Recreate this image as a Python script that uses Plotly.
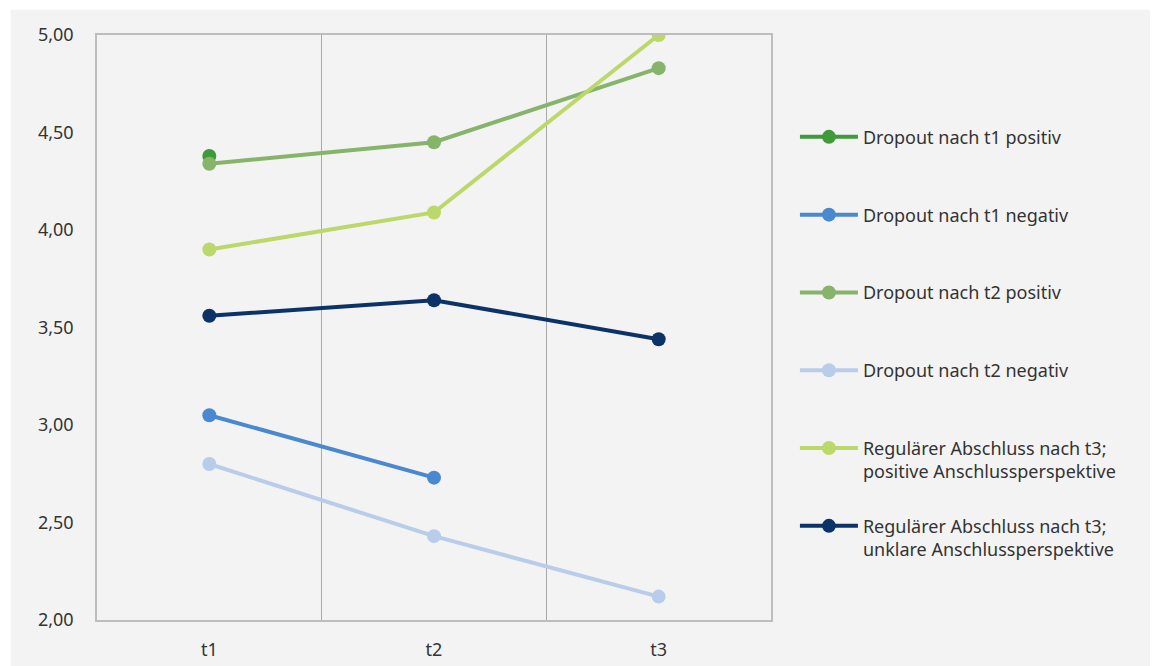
import plotly.graph_objects as go

categories = ["t1", "t2", "t3"]

series_names = [
    "Dropout nach t1 positiv",
    "Dropout nach t1 negativ",
    "Dropout nach t2 positiv",
    "Dropout nach t2 negativ",
    "Regulärer Abschluss nach t3;<br>positive Anschlussperspektive",
    "Regulärer Abschluss nach t3;<br>unklare Anschlussperspektive",
]

dropout_t1_pos = [4.38, None, None]
dropout_t1_neg = [3.05, 2.73, None]
dropout_t2_pos = [4.34, 4.45, 4.83]
dropout_t2_neg = [2.80, 2.43, 2.12]
regular_pos = [3.90, 4.09, 5.00]
regular_unklar = [3.56, 3.64, 3.44]

series_values = [dropout_t1_pos, dropout_t1_neg, dropout_t2_pos,
                 dropout_t2_neg, regular_pos, regular_unklar]
colors = ["#3f9a3a", "#4a89cf", "#86b46b", "#b9cdeb", "#bdd86a", "#0b3367"]

y_ticks = [2.0, 2.5, 3.0, 3.5, 4.0, 4.5, 5.0]

FONT = "Noto Sans"
FS = 18

fig = go.Figure()
for i, (name, vals, col) in enumerate(zip(series_names, series_values, colors)):
    label = name if "<br>" in name else name + "<br> "
    fig.add_trace(go.Scatter(
        x=categories, y=vals, name=label, mode="lines+markers",
        line=dict(color=col, width=4),
        marker=dict(color=col, size=14),
        legendgroup=f"g{i}",
        connectgaps=False,
    ))

fig.update_layout(
    width=1158, height=666,
    margin=dict(l=89, r=395, t=27, b=54),
    paper_bgcolor="white",
    plot_bgcolor="#f3f3f3",
    separators=",.",
    font=dict(family=FONT, size=FS, color="#333333"),
    showlegend=True,
    legend=dict(
        x=1.0355, y=0.857, xanchor="left", yanchor="top",
        traceorder="grouped", tracegroupgap=28, valign="top",
        bgcolor="rgba(0,0,0,0)",
        font=dict(family=FONT, size=FS, color="#333333"),
        itemwidth=58,
    ),
    shapes=[dict(
        type="rect", xref="paper", yref="paper", layer="below",
        x0=-0.128, x1=1.6, y0=-0.12, y1=1.043,
        fillcolor="#f3f3f3", line=dict(width=0),
    )],
)

fig.update_xaxes(
    type="category", categoryorder="array", categoryarray=categories,
    tickson="boundaries", showgrid=True, gridcolor="#a9a9a9", gridwidth=1,
    showline=True, linecolor="#bdbdbd", linewidth=1.5, mirror=True,
    ticks="", ticklen=0, zeroline=False, ticklabelstandoff=13,
    tickfont=dict(family=FONT, size=FS, color="#333333"),
    range=[-0.5, 2.5],
)
fig.update_yaxes(
    range=[2, 5], tickvals=y_ticks, tickformat=".2f",
    showgrid=False, zeroline=False,
    showline=True, linecolor="#bdbdbd", linewidth=1.5, mirror=True,
    ticks="", ticklabelstandoff=18,
    tickfont=dict(family=FONT, size=FS, color="#333333"),
)

fig.write_html("out.html")
